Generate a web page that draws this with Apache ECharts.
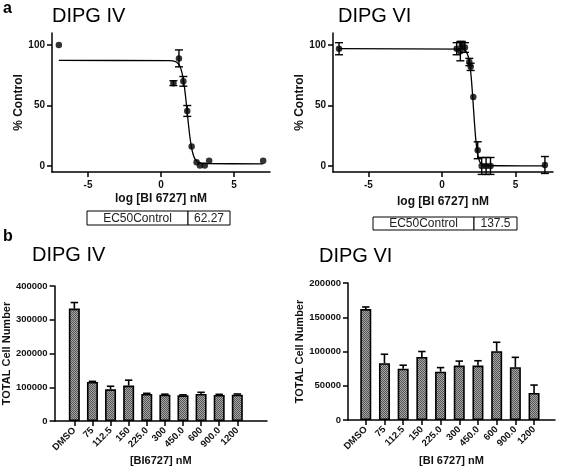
<!DOCTYPE html>
<html><head><meta charset="utf-8">
<script src="https://cdn.jsdelivr.net/npm/echarts@6/dist/echarts.min.js"></script>
<style>html,body{margin:0;padding:0;background:#fff}#c{width:567px;height:475px}</style>
</head><body><div id="c"></div>
<script>
// ---------- data ----------
const panelLetters = ['a', 'b'];
const panelTitles = ['DIPG IV', 'DIPG VI', 'DIPG IV', 'DIPG VI'];
const doseAxisName = 'log [BI 6727] nM';
const responseAxisName = '% Control';
const ec50Label = 'EC50Control';
const ec50Values = ['62.27', '137.5'];
const logDoseTicks = [-5, 0, 5];
const responseTicks = [0, 50, 100];

// DIPG IV dose-response (points)
const iv_logDose = [-7, 0.85, 1.23, 1.53, 1.8, 2.1, 2.44, 2.67, 3.0, 3.3, 7];
const iv_response = [100, 68.5, 89, 70, 45.5, 16, 3, 0.4, 0.4, 4.4, 4.4];
const iv_sem = [0, 2, 7, 4, 4.5, 0, 0, 0, 0, 0, 0];
// DIPG IV fitted curve
const iv_fitX = [-7, 0.6, 1.0, 1.2, 1.3, 1.4, 1.5, 1.6, 1.7, 1.8, 1.9, 2.0, 2.1, 2.2, 2.3, 2.4, 2.6, 3.0, 7];
const iv_fitY = [87.3, 87.1, 86.3, 84.4, 82.3, 78.9, 73.5, 65.8, 55.6, 44, 32.2, 22.3, 14.8, 9.7, 6.5, 4.6, 2.7, 2.0, 1.8];

// DIPG VI dose-response (points)
const vi_logDose = [-7, 1.0, 1.25, 1.35, 1.56, 1.86, 1.95, 2.13, 2.43, 2.7, 3.0, 3.3, 7];
const vi_response = [97, 97, 95, 100, 98, 86, 82, 57, 13, 0, 0, 0, 0.8];
const vi_sem = [5, 5, 8, 3, 4, 3, 3, 0, 7, 7, 7, 7, 7];
// DIPG VI fitted curve
const vi_fitX = [-7, 1.4, 1.6, 1.8, 1.9, 2.0, 2.1, 2.2, 2.3, 2.4, 2.5, 2.6, 2.8, 7];
const vi_fitY = [97, 96.6, 95.4, 90.1, 83.3, 71.8, 55.4, 37.3, 21.9, 11.7, 5.8, 2.8, 0.6, 0];

// cell numbers
const concCategories = ['DMSO', '75', '112.5', '150', '225.0', '300', '450.0', '600', '900.0', '1200'];
const cellAxisName = 'TOTAL Cell Number';
const concAxisNames = ['[BI6727] nM', '[BI 6727] nM'];
const iv_cells = [333000, 115500, 94000, 105000, 80000, 78000, 76000, 80000, 77000, 78000];
const iv_cellsErr = [18000, 2000, 9000, 16000, 2000, 1500, 1500, 5000, 2000, 2000];
const vi_cells = [162000, 83000, 75000, 92000, 70500, 79500, 79500, 100500, 77000, 39500];
const vi_cellsErr = [3000, 13000, 5000, 8000, 6000, 6500, 7000, 13000, 14500, 11500];

// ---------- chart ----------
const FONT = "'Liberation Sans', Arial, sans-serif";
const chart = echarts.init(document.getElementById('c'), null, {renderer: 'canvas'});

// checkered bar fill
const pat = document.createElement('canvas');
pat.width = 2; pat.height = 2;
const pc = pat.getContext('2d');
pc.fillStyle = '#a6a6a6'; pc.fillRect(0, 0, 2, 2);
pc.fillStyle = '#555555'; pc.fillRect(0, 0, 1, 1); pc.fillRect(1, 1, 1, 1);

function errRender(capHalf, both, lw) {
  return function (params, api) {
    const x = api.value(0), lo = api.value(1), hi = api.value(2);
    if (hi === lo) return null;
    const a = api.coord([x, lo]), b = api.coord([x, hi]);
    const st = {stroke: '#000', lineWidth: lw};
    const ch = [
      {type: 'line', shape: {x1: a[0], y1: a[1], x2: b[0], y2: b[1]}, style: st},
      {type: 'line', shape: {x1: b[0] - capHalf, y1: b[1], x2: b[0] + capHalf, y2: b[1]}, style: st}
    ];
    if (both) ch.push({type: 'line', shape: {x1: a[0] - capHalf, y1: a[1], x2: a[0] + capHalf, y2: a[1]}, style: st});
    return {type: 'group', children: ch};
  };
}

const zip = (xs, ys) => xs.map((x, i) => [x, ys[i]]);
const axisLineStyle = {lineStyle: {color: '#000', width: 1.5}, onZero: false};
const tickStyle = {show: true, inside: false, length: 5, lineStyle: {color: '#000', width: 1.5}};
const labelFont = {color: '#111', fontFamily: FONT, fontWeight: 'bold'};

const grids = [
  {left: 52, right: 297, top: 33, bottom: 303},
  {left: 333, right: 14, top: 33, bottom: 303},
  {left: 52, right: 300, top: 286, bottom: 54},
  {left: 348, right: 12, top: 283, bottom: 55}
];

function doseX(gi, gap, min, max) {
  return {
    type: 'value', gridIndex: gi, min: min, max: max,
    name: doseAxisName, nameLocation: 'middle', nameGap: gap,
    nameTextStyle: {fontFamily: FONT, fontWeight: 'bold', fontSize: 12, color: '#111'},
    axisLine: axisLineStyle, axisTick: Object.assign({customValues: logDoseTicks}, tickStyle),
    axisLabel: Object.assign({customValues: logDoseTicks, fontSize: 10, margin: 8, formatter: v => String(v)}, labelFont),
    splitLine: {show: false}
  };
}
function respY(gi, gap) {
  return {
    type: 'value', gridIndex: gi, min: -5, max: 110,
    name: responseAxisName, nameLocation: 'middle', nameGap: gap,
    nameTextStyle: {fontFamily: FONT, fontWeight: 'bold', fontSize: 12, color: '#111'},
    axisLine: axisLineStyle, axisTick: Object.assign({customValues: responseTicks}, tickStyle),
    axisLabel: Object.assign({customValues: responseTicks, fontSize: 10, margin: 7, formatter: v => String(v)}, labelFont),
    splitLine: {show: false}
  };
}
const catIdx = concCategories.map((c, i) => i);
function concX(gi, gap, min, max, name) {
  return {
    type: 'value', gridIndex: gi, min: min, max: max,
    name: name, nameLocation: 'middle', nameGap: gap,
    nameTextStyle: {fontFamily: FONT, fontWeight: 'bold', fontSize: 11, color: '#111'},
    axisLine: axisLineStyle, axisTick: Object.assign({customValues: catIdx}, tickStyle),
    axisLabel: Object.assign({customValues: catIdx, fontSize: 9.5, margin: 8, rotate: 45,
      formatter: v => concCategories[Math.round(v)] || ''}, labelFont),
    splitLine: {show: false}
  };
}
function cellY(gi, gap, max, interval) {
  return {
    type: 'value', gridIndex: gi, min: 0, max: max, interval: interval,
    name: cellAxisName, nameLocation: 'middle', nameGap: gap,
    nameTextStyle: {fontFamily: FONT, fontWeight: 'bold', fontSize: 11, color: '#111'},
    axisLine: axisLineStyle, axisTick: tickStyle,
    axisLabel: Object.assign({fontSize: 9.5, margin: 7, formatter: v => String(v)}, labelFont),
    splitLine: {show: false}
  };
}

function doseSeries(ai, xs, ys, sem, fx, fy) {
  return [
    {type: 'line', xAxisIndex: ai, yAxisIndex: ai, data: zip(fx, fy), smooth: 0.25, symbol: 'none',
      lineStyle: {color: '#000', width: 1.3}, silent: true, z: 2},
    {type: 'custom', xAxisIndex: ai, yAxisIndex: ai, renderItem: errRender(4, true, 1.4),
      encode: {x: 0, y: [1, 2]}, data: xs.map((x, i) => [x, ys[i] - sem[i], ys[i] + sem[i]]), z: 3},
    {type: 'scatter', xAxisIndex: ai, yAxisIndex: ai, data: zip(xs, ys), symbol: 'circle', symbolSize: 6.5,
      itemStyle: {color: '#000'}, z: 4}
  ];
}
function barSeries(ai, vals, errs) {
  return [
    {type: 'bar', xAxisIndex: ai, yAxisIndex: ai, data: vals.map((v, i) => [i, v]), barWidth: 11,
      itemStyle: {color: {image: pat, repeat: 'repeat'}, borderColor: '#000', borderWidth: 1.6}, z: 2},
    {type: 'custom', xAxisIndex: ai, yAxisIndex: ai, renderItem: errRender(3.7, false, 1.6),
      encode: {x: 0, y: [1, 2]}, data: vals.map((v, i) => [i, v, v + errs[i]]), z: 3}
  ];
}

function txt(x, y, text, size, weight, align) {
  return {type: 'text', x: x, y: y, style: {text: text, fill: '#000', font: (weight || 'normal') + ' ' + size + 'px ' + FONT,
    textAlign: align || 'left', textVerticalAlign: 'middle'}};
}
function ec50Table(x0, xd, x1, y0, y1, value) {
  const st = {fill: '#fff', stroke: '#000', lineWidth: 1};
  return [
    {type: 'rect', shape: {x: x0, y: y0, width: xd - x0, height: y1 - y0}, style: st},
    {type: 'rect', shape: {x: xd, y: y0, width: x1 - xd, height: y1 - y0}, style: st},
    {type: 'text', x: (x0 + xd) / 2, y: (y0 + y1) / 2 + 0.5, style: {text: ec50Label, fill: '#222', font: '12px ' + FONT, textAlign: 'center', textVerticalAlign: 'middle'}},
    {type: 'text', x: (xd + x1) / 2, y: (y0 + y1) / 2 + 0.5, style: {text: value, fill: '#222', font: '12px ' + FONT, textAlign: 'center', textVerticalAlign: 'middle'}}
  ];
}

const option = {
  animation: false,
  backgroundColor: '#fff',
  grid: grids,
  xAxis: [
    doseX(0, 21, -7.47, 7.47),
    doseX(1, 24, -7.41, 7.55),
    concX(2, 33, -1.09, 10.64, concAxisNames[0]),
    concX(3, 35, -0.95, 10.12, concAxisNames[1])
  ],
  yAxis: [
    respY(0, 25),
    respY(1, 25),
    cellY(2, 38, 400000, 100000),
    cellY(3, 40, 200000, 50000)
  ],
  series: [].concat(
    doseSeries(0, iv_logDose, iv_response, iv_sem, iv_fitX, iv_fitY),
    doseSeries(1, vi_logDose, vi_response, vi_sem, vi_fitX, vi_fitY),
    barSeries(2, iv_cells, iv_cellsErr),
    barSeries(3, vi_cells, vi_cellsErr)
  ),
  graphic: {elements: [].concat(
    [
      txt(3, 9, panelLetters[0], 16, 'bold'),
      txt(3, 237, panelLetters[1], 16, 'bold'),
      txt(52, 16, panelTitles[0], 20),
      txt(338, 16, panelTitles[1], 20),
      txt(32, 255, panelTitles[2], 20),
      txt(319, 256, panelTitles[3], 20)
    ],
    ec50Table(87, 188, 230, 211, 225, ec50Values[0]),
    ec50Table(373, 474, 517, 217, 230, ec50Values[1])
  )}
};
chart.setOption(option);
</script>
</body></html>
